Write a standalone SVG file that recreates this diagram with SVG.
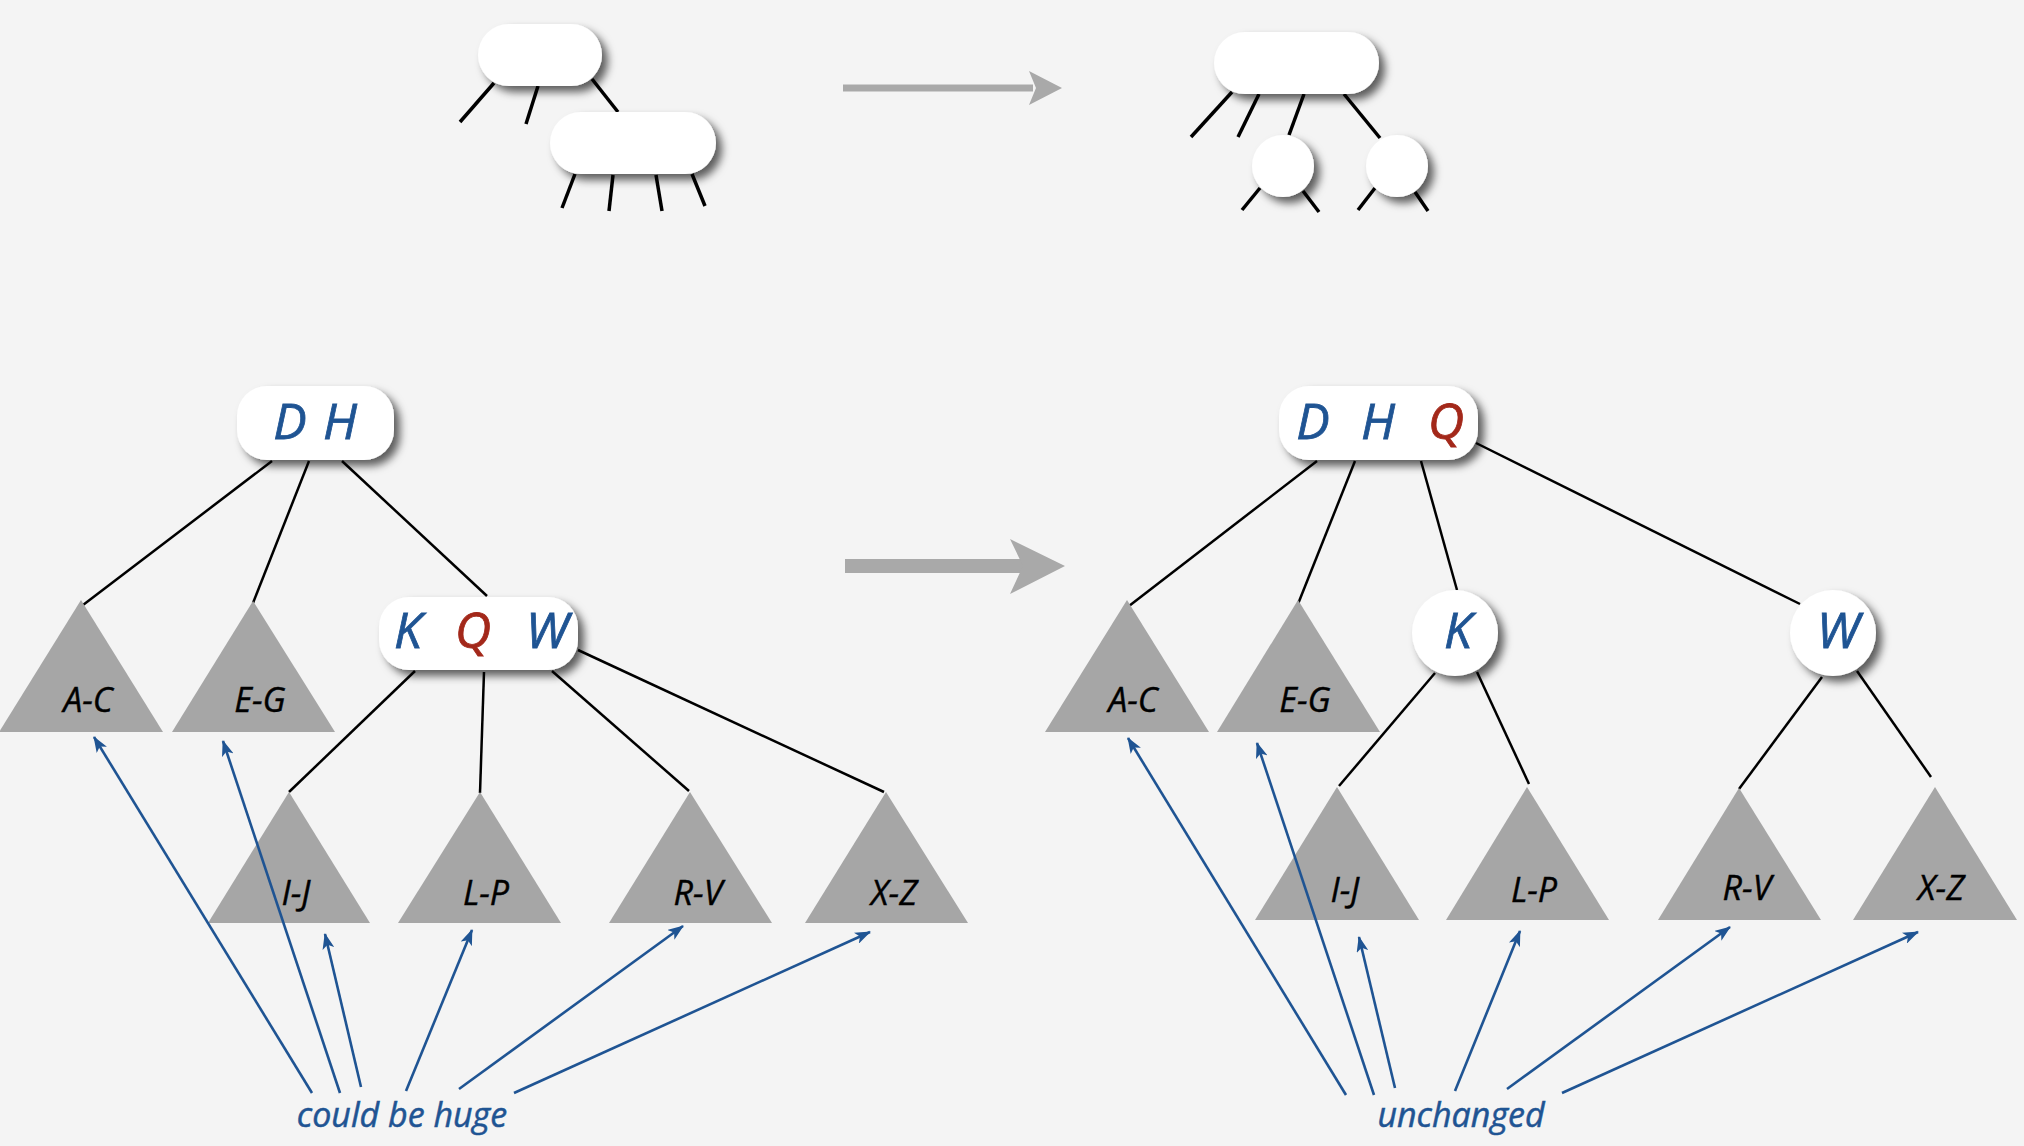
<svg xmlns="http://www.w3.org/2000/svg" width="2024" height="1146" viewBox="0 0 2024 1146">
<defs>
<filter id="sh" x="-30%" y="-30%" width="170%" height="180%">
<feDropShadow dx="6" dy="6" stdDeviation="4.5" flood-color="#000" flood-opacity="0.62"/>
</filter>
<marker id="ah" viewBox="0 0 16 12" refX="15" refY="6" markerWidth="16" markerHeight="12" markerUnits="userSpaceOnUse" orient="auto">
<path d="M0,0 L16,6 L0,12 L4,6 z" fill="#1f5493"/>
</marker>
<style>
.node{fill:#fff;filter:url(#sh)}
.tl{stroke:#000;stroke-width:3.5;fill:none}
.ed{stroke:#000;stroke-width:2.5;fill:none}
.ar{stroke:#1f5493;stroke-width:2.6;fill:none;marker-end:url(#ah)}
.tri{fill:#a6a6a6}
.key{font-family:"Open Sans","Noto Sans",sans-serif;font-style:italic;font-size:50px;text-anchor:middle;stroke-width:0.8}
.b{fill:#1f5493;stroke:#1f5493}
.r{fill:#a3281a;stroke:#a3281a}
.lab{font-family:"Open Sans","Noto Sans",sans-serif;font-style:italic;font-size:34px;text-anchor:middle;fill:#000;stroke:#000;stroke-width:0.4}
.note{font-family:"Open Sans","Noto Sans",sans-serif;font-style:italic;font-size:34px;text-anchor:middle;fill:#1f5493;stroke:#1f5493;stroke-width:0.5}
.gray{fill:#a9a9a9}
</style>
</defs>
<rect width="2024" height="1146" fill="#f4f4f4"/>

<!-- top small diagrams -->
<g id="top-left">
<line class="tl" x1="494" y1="83" x2="460" y2="122"/>
<line class="tl" x1="538" y1="86" x2="526" y2="124"/>
<line class="tl" x1="592" y1="79" x2="618" y2="112"/>
<line class="tl" x1="575" y1="174" x2="562" y2="208"/>
<line class="tl" x1="613" y1="175" x2="609" y2="211"/>
<line class="tl" x1="656" y1="175" x2="662" y2="211"/>
<line class="tl" x1="692" y1="174" x2="705" y2="206"/>
<rect class="node" x="478" y="24" width="124" height="62" rx="31"/>
<rect class="node" x="550" y="112" width="166" height="62" rx="31"/>
</g>
<g id="top-arrow">
<rect class="gray" x="843" y="84.5" width="190" height="7"/>
<polygon class="gray" points="1029,71 1062,88 1029,105 1036,88"/>
</g>
<g id="top-right">
<line class="tl" x1="1232" y1="92" x2="1191" y2="137"/>
<line class="tl" x1="1259" y1="94" x2="1238" y2="137"/>
<line class="tl" x1="1304" y1="94" x2="1289" y2="135"/>
<line class="tl" x1="1344" y1="94" x2="1380" y2="138"/>
<line class="tl" x1="1260" y1="188" x2="1242" y2="210"/>
<line class="tl" x1="1303" y1="191" x2="1319" y2="212"/>
<line class="tl" x1="1375" y1="188" x2="1358" y2="210"/>
<line class="tl" x1="1415" y1="192" x2="1428" y2="211"/>
<rect class="node" x="1214" y="32" width="165" height="62" rx="31"/>
<circle class="node" cx="1283" cy="166" r="31"/>
<circle class="node" cx="1397" cy="166" r="31"/>
</g>

<g id="mid-arrow">
<rect class="gray" x="845" y="559" width="180" height="14"/>
<polygon class="gray" points="1010,539 1065,566 1010,594 1023,566"/>
</g>

<!-- tree edges -->
<g id="edges">
<line class="ed" x1="272" y1="461" x2="83" y2="605"/>
<line class="ed" x1="309" y1="461" x2="253" y2="603"/>
<line class="ed" x1="342" y1="461" x2="487" y2="596"/>
<line class="ed" x1="415" y1="671" x2="289" y2="792"/>
<line class="ed" x1="484" y1="672" x2="480" y2="793"/>
<line class="ed" x1="552" y1="671" x2="689" y2="791"/>
<line class="ed" x1="578" y1="650" x2="884" y2="792"/>
<line class="ed" x1="1317" y1="461" x2="1129" y2="606"/>
<line class="ed" x1="1355" y1="461" x2="1298" y2="604"/>
<line class="ed" x1="1421" y1="461" x2="1457" y2="590"/>
<line class="ed" x1="1476" y1="443" x2="1800" y2="604"/>
<line class="ed" x1="1435" y1="673" x2="1339" y2="786"/>
<line class="ed" x1="1477" y1="672" x2="1529" y2="784"/>
<line class="ed" x1="1822" y1="677" x2="1739" y2="789"/>
<line class="ed" x1="1857" y1="671" x2="1931" y2="777"/>
</g>

<!-- left tree -->
<g id="L-DH">
<rect class="node" x="237" y="386" width="157" height="74" rx="30"/>
<text class="key b" x="290" y="439">D</text>
<text class="key b" x="340" y="439">H</text>
</g>
<g id="L-KQW">
<rect class="node" x="379" y="597" width="199" height="73" rx="30"/>
<text class="key b" x="408" y="648">K</text>
<text class="key r" x="473" y="648">Q</text>
<text class="key b" x="547" y="648">W</text>
</g>
<g id="L-AC"><polygon class="tri" points="81,600 -1,732 163,732"/><text class="lab" x="88" y="712">A-C</text></g>
<g id="L-EG"><polygon class="tri" points="253,601 172,732 335,732"/><text class="lab" x="260" y="712">E-G</text></g>
<g id="L-IJ"><polygon class="tri" points="289,792 208,923 370,923"/><text class="lab" x="296" y="905">I-J</text></g>
<g id="L-LP"><polygon class="tri" points="480,792 398,923 561,923"/><text class="lab" x="486" y="905">L-P</text></g>
<g id="L-RV"><polygon class="tri" points="690,792 609,923 772,923"/><text class="lab" x="698" y="905">R-V</text></g>
<g id="L-XZ"><polygon class="tri" points="886,792 805,923 968,923"/><text class="lab" x="894" y="905">X-Z</text></g>

<!-- right tree -->
<g id="R-DHQ">
<rect class="node" x="1279" y="386" width="199" height="74" rx="30"/>
<text class="key b" x="1313" y="439">D</text>
<text class="key b" x="1378" y="439">H</text>
<text class="key r" x="1446" y="439">Q</text>
</g>
<g id="R-K">
<circle class="node" cx="1455" cy="633" r="43"/>
<text class="key b" x="1458" y="648">K</text>
</g>
<g id="R-W">
<circle class="node" cx="1833" cy="633" r="43"/>
<text class="key b" x="1838" y="648">W</text>
</g>
<g id="R-AC"><polygon class="tri" points="1127,600 1045,732 1209,732"/><text class="lab" x="1133" y="712">A-C</text></g>
<g id="R-EG"><polygon class="tri" points="1298,600 1217,732 1380,732"/><text class="lab" x="1305" y="712">E-G</text></g>
<g id="R-IJ"><polygon class="tri" points="1337,787 1255,920 1419,920"/><text class="lab" x="1345" y="902">I-J</text></g>
<g id="R-LP"><polygon class="tri" points="1527,787 1446,920 1609,920"/><text class="lab" x="1534" y="902">L-P</text></g>
<g id="R-RV"><polygon class="tri" points="1739,788 1658,920 1821,920"/><text class="lab" x="1747" y="900">R-V</text></g>
<g id="R-XZ"><polygon class="tri" points="1935,787 1853,920 2017,920"/><text class="lab" x="1941" y="900">X-Z</text></g>

<!-- annotation arrows -->
<g id="arrows">
<line class="ar" x1="312" y1="1093" x2="94" y2="737"/>
<line class="ar" x1="340" y1="1093" x2="223" y2="741"/>
<line class="ar" x1="361" y1="1087" x2="325" y2="934"/>
<line class="ar" x1="406" y1="1091" x2="472" y2="930"/>
<line class="ar" x1="459" y1="1089" x2="683" y2="926"/>
<line class="ar" x1="514" y1="1093" x2="870" y2="932"/>
<line class="ar" x1="1346" y1="1095" x2="1128" y2="738"/>
<line class="ar" x1="1374" y1="1095" x2="1257" y2="743"/>
<line class="ar" x1="1395" y1="1088" x2="1359" y2="937"/>
<line class="ar" x1="1455" y1="1091" x2="1520" y2="931"/>
<line class="ar" x1="1507" y1="1089" x2="1730" y2="927"/>
<line class="ar" x1="1562" y1="1093" x2="1918" y2="932"/>
</g>
<g id="notes">
<text class="note" x="402" y="1127">could be huge</text>
<text class="note" x="1461" y="1127">unchanged</text>
</g>
</svg>
